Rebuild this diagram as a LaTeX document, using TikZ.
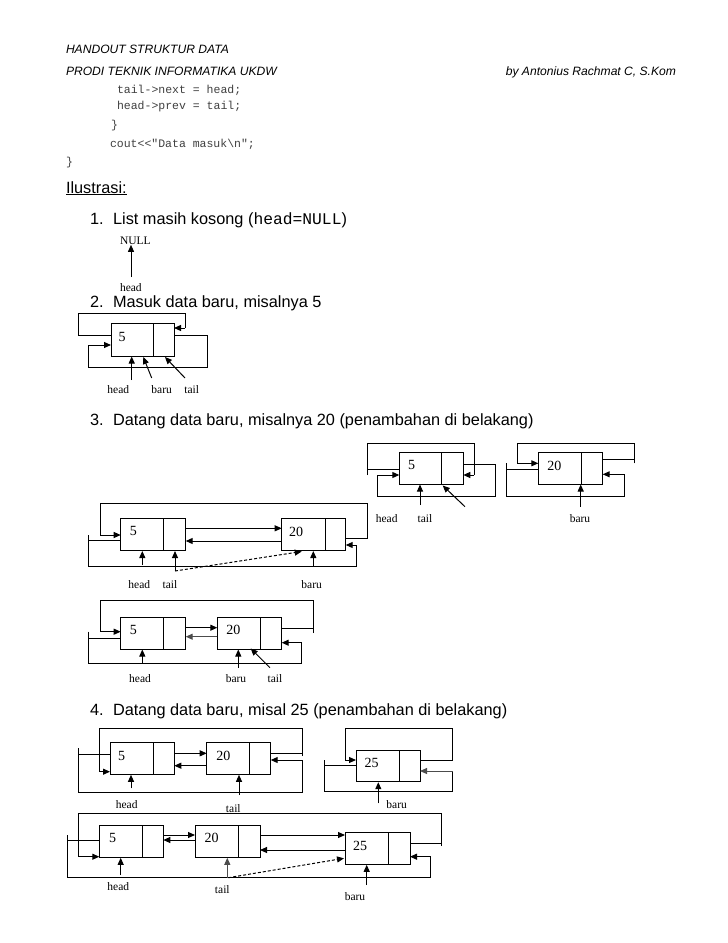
\documentclass[tikz,border=0pt]{standalone}
\usepackage{fontspec}
\setmainfont{Liberation Serif}
\newfontfamily\arialf{Liberation Sans}
\setmonofont{Liberation Mono}
\usetikzlibrary{arrows.meta}
\begin{document}
\begin{tikzpicture}[x=1pt,y=-1pt,
  every node/.style={inner sep=0pt,outer sep=0pt},
  ln/.style={line width=1pt,line join=miter},
  ar/.style={line width=1pt,-{Triangle[length=7pt,width=6pt]}},
  dar/.style={ar,dashed,dash pattern=on 3pt off 2pt},
  cell/.style={draw,line width=1pt,anchor=north west,minimum height=32pt},
  num/.style={font=\fontsize{14}{16}\selectfont},
  lab/.style={font=\fontsize{11.5}{13}\selectfont},
  hdr/.style={anchor=base west,font=\arialf\itshape\fontsize{12.1}{14}\selectfont},
  code/.style={anchor=base west,text=black!75,font=\ttfamily\fontsize{11.5}{13}\selectfont},
  head/.style={anchor=base west,font=\arialf\fontsize{16.3}{18}\selectfont}
]
\path[use as bounding box,fill=white] (0,0) rectangle (728,943);

% header
\node[hdr] (h1) at (66,53) {HANDOUT STRUKTUR DATA};
\node[hdr] (h2) at (66,75) {PRODI TEKNIK INFORMATIKA UKDW};
\node[hdr,anchor=base east] (h3) at (676,75) {by Antonius Rachmat C, S.Kom};
\node[code] (c1) at (117,93) {tail->next = head;};
\node[code] (c2) at (117,109) {head->prev = tail;};
\node[code] (c3) at (111,128) {\}};
\node[code] (c4) at (110,147) {cout<<"Data masuk\textbackslash n";};
\node[code] (c5) at (66,165) {\}};

\node[head] (il) at (66,193) {\underline{Ilustrasi:}};

% 1
\node[head] (t1) at (90,224) {1.\kern 9.5pt List masih kosong (\ttfamily head=NULL\arialf)};
\node[lab,anchor=west] (null) at (120,241) {NULL};
\node[lab,anchor=west] (l1h) at (120,288) {head};
\draw[ar] (131,277) -- (null.south -| 131,0);

% 2
\node[head] (t2) at (90,307) {2.\kern 9.5pt Masuk data baru, misalnya 5};
\node[cell,minimum width=63pt,minimum height=33pt] (s2) at (111,323) {};
\draw[ln] (153,323) -- (153,356);
\node[num] at (122,337) {5};
\draw[ln] (s2.west |- 0,335) -- (78,335) -- (78,313) -- (185,313) -- (185,328);
\draw[ar] (185,328) -- (s2.east |- 0,328);
\draw[ln] (s2.east |- 0,335) -- (207,335) -- (207,367) -- (88,367) -- (88,345);
\draw[ar] (88,345) -- (s2.west |- 0,345);
\node[lab] (l2h) at (118.3,390) {head};
\node[lab] (l2b) at (161.7,390) {baru};
\node[lab] (l2t) at (191.7,390) {tail};
\draw[ar] (131.7,380) -- (131.7,356.5);
\draw[ar] (151.7,378) -- (143.3,357);
\draw[ar] (185,378) -- (165,357);

% 3
\node[head] (t3) at (90,425) {3.\kern 9.5pt Datang data baru, misalnya 20 (penambahan di belakang)};

% 3a : 5
\node[cell,minimum width=64pt,minimum height=31.3pt] (a3) at (399.3,452.7) {};
\draw[ln] (441.7,452.7) -- (441.7,484);
\node[num] at (411.7,465) {5};
\draw[ln] (a3.west |- 0,469.3) -- (367.3,469.3);
\draw[ln] (367.3,475) -- (367.3,443.3) -- (474,443.3) -- (474,475);
\draw[ar] (474,475) -- (a3.east |- 0,475);
\draw[ln] (a3.east |- 0,464.3) -- (495,464.3) -- (495,496) -- (377.3,496) -- (377.3,475);
\draw[ar] (377.3,475) -- (a3.west |- 0,475);
\node[lab] (l3h) at (386.7,518.3) {head};
\node[lab] (l3t) at (425,518.3) {tail};
\draw[ar] (420,505) -- (420,484.5);
\draw[ar] (465,506.7) -- (442.7,485.5);

% 3b : 20
\node[cell,minimum width=64.4pt,minimum height=31.3pt] (b3) at (538.3,452.7) {};
\draw[ln] (581.7,452.7) -- (581.7,484);
\node[num] at (554.3,466) {20};
\draw[ln] (b3.east |- 0,459.3) -- (634,459.3);
\draw[ln] (634,463.3) -- (634,443.3) -- (517.3,443.3) -- (517.3,463.3);
\draw[ar] (517.3,463.3) -- (b3.west |- 0,463.3);
\draw[ln] (b3.west |- 0,469.3) -- (506,469.3);
\draw[ln] (506,463.3) -- (506,496) -- (624.3,496) -- (624.3,474.3);
\draw[ar] (624.3,474.3) -- (b3.east |- 0,474.3);
\node[lab] (l3b) at (580,518.3) {baru};
\draw[ar] (580.7,506.7) -- (580.7,484.5);

% 3c
\node[cell,minimum width=65pt,minimum height=32pt] (c5n) at (120.7,518.5) {};
\draw[ln] (163.3,518.5) -- (163.3,550.5);
\node[num] at (133.3,531) {5};
\node[cell,minimum width=64pt,minimum height=32pt] (c20) at (281.7,518.5) {};
\draw[ln] (325,518.5) -- (325,550.5);
\node[num] at (296,531.7) {20};
\draw[ln] (c20.east |- 0,538.3) -- (367.3,538.3) -- (367.3,503.3) -- (100,503.3) -- (100,535);
\draw[ar] (100,535) -- (c5n.west |- 0,535);
\draw[ln] (c5n.west |- 0,540) -- (88.3,540);
\draw[ln] (88.3,535) -- (88.3,566.7) -- (356.7,566.7) -- (356.7,545);
\draw[ar] (356.7,545) -- (c20.east |- 0,545);
\draw[ar] (c5n.east |- 0,528.3) -- (c20.west |- 0,528.3);
\draw[ar] (c20.west |- 0,541) -- (c5n.east |- 0,541);
\node[lab] (l3ch) at (139.3,584.3) {head};
\node[lab] (l3ct) at (170,584.3) {tail};
\node[lab] (l3cb) at (311.7,584.3) {baru};
\draw[ar] (142.3,565) -- (142.3,551);
\draw[ar] (175,571) -- (175,551);
\draw[dar] (175,571) -- (301.7,551.5);
\draw[ar] (313.3,566.7) -- (313.3,551);

% 3d
\node[cell,minimum width=65pt,minimum height=31.3pt] (d5) at (120.7,617.7) {};
\draw[ln] (163.3,617.7) -- (163.3,649);
\node[num] at (133.3,630) {5};
\node[cell,minimum width=64.4pt,minimum height=31.3pt] (d20) at (217.3,617.7) {};
\draw[ln] (260.7,617.7) -- (260.7,649);
\node[num] at (233.3,630) {20};
\draw[ln] (d20.east |- 0,628.3) -- (313.3,628.3);
\draw[ln] (313.3,633) -- (313.3,600) -- (100,600) -- (100,631.7);
\draw[ar] (100,631.7) -- (d5.west |- 0,631.7);
\draw[ln] (d5.west |- 0,638.3) -- (88.3,638.3);
\draw[ln] (88.3,631.7) -- (88.3,663.3) -- (301.7,663.3) -- (301.7,642.7);
\draw[ar] (301.7,642.7) -- (d20.east |- 0,642.7);
\draw[ar] (d5.east |- 0,627.7) -- (d20.west |- 0,627.7);
\draw[ar,black!70] (d20.west |- 0,636.7) -- (d5.east |- 0,636.7);
\node[lab] (l3dh) at (140,678.3) {head};
\node[lab] (l3db) at (236,678.3) {baru};
\node[lab] (l3dt) at (275,678.3) {tail};
\draw[ar] (142.3,663.3) -- (142.3,649.5);
\draw[ar] (238.3,667.7) -- (238.3,649.5);
\draw[ar] (270,667.7) -- (250.7,648.5);

% 4
\node[head] (t4) at (90,715) {4.\kern 9.5pt Datang data baru, misal 25 (penambahan di belakang)};

\node[cell,minimum width=64.3pt,minimum height=32pt] (e5) at (110,742.3) {};
\draw[ln] (153.3,742.3) -- (153.3,774.3);
\node[num] at (121.7,755.7) {5};
\node[cell,minimum width=64pt,minimum height=32pt] (e20) at (206.7,742.3) {};
\draw[ln] (249.3,742.3) -- (249.3,774.3);
\node[num] at (223.3,755.7) {20};
\draw[ln] (e20.east |- 0,753.3) -- (302.7,753.3);
\draw[ln] (302.7,756) -- (302.7,728.3) -- (99.3,728.3) -- (99.3,771.7);
\draw[ar] (99.3,771.7) -- (e5.west |- 0,771.7);
\draw[ln] (e5.west |- 0,754.3) -- (78.3,754.3);
\draw[ln] (78.3,748.3) -- (78.3,792.3) -- (302.7,792.3) -- (302.7,760);
\draw[ar] (302.7,760) -- (e20.east |- 0,760);
\draw[ar] (e5.east |- 0,753.3) -- (e20.west |- 0,753.3);
\draw[ar] (e20.west |- 0,765.7) -- (e5.east |- 0,765.7);
\node[lab] (l4ah) at (126.7,804.3) {head};
\node[lab] (l4at) at (233.3,808.3) {tail};
\draw[ar] (131,788.3) -- (131,774.8);
\draw[ar] (239,795) -- (239,774.8);

\node[cell,minimum width=64pt,minimum height=31.7pt] (f25) at (356,750) {};
\draw[ln] (399.3,750) -- (399.3,781.7);
\node[num] at (371.7,763.3) {25};
\draw[ln] (f25.east |- 0,760) -- (452.7,760) -- (452.7,728.3) -- (345,728.3) -- (345,760);
\draw[ar] (345,760) -- (f25.west |- 0,760);
\draw[ln] (f25.west |- 0,765.7) -- (324,765.7);
\draw[ln] (324,760) -- (324,791.7) -- (452.7,791.7) -- (452.7,771);
\draw[ar,black!70] (452.7,771) -- (f25.east |- 0,771);
\node[lab] (l4ab) at (396.7,804.3) {baru};
\draw[ar] (378.3,803.3) -- (378.3,782.2);

% 4b
\node[cell,minimum width=64pt,minimum height=32.3pt] (g5) at (99.3,825) {};
\draw[ln] (142.3,825) -- (142.3,857.3);
\node[num] at (112.7,838.3) {5};
\node[cell,minimum width=65pt,minimum height=32.3pt] (g20) at (195,825) {};
\draw[ln] (238.3,825) -- (238.3,857.3);
\node[num] at (211.7,838.3) {20};
\node[cell,minimum width=65pt,minimum height=32pt] (g25) at (345,832.3) {};
\draw[ln] (388.3,832.3) -- (388.3,864.3);
\node[num] at (360,846) {25};
\draw[ln] (g25.east |- 0,843.3) -- (441.7,843.3);
\draw[ln] (441.7,846) -- (441.7,813.3) -- (78.3,813.3) -- (78.3,856.7);
\draw[ar] (78.3,856.7) -- (g5.west |- 0,856.7);
\draw[ln] (g5.west |- 0,840) -- (67.3,840);
\draw[ln] (67.3,835) -- (67.3,877.7) -- (430.7,877.7) -- (430.7,856.7);
\draw[ar] (430.7,856.7) -- (g25.east |- 0,856.7);
\draw[ar] (g5.east |- 0,835) -- (g20.west |- 0,835);
\draw[ar] (g20.west |- 0,840) -- (g5.east |- 0,840);
\draw[ar] (g20.east |- 0,835) -- (g25.west |- 0,835);
\draw[ar] (g25.west |- 0,850) -- (g20.east |- 0,850);
\node[lab] (l4bh) at (118.3,886.7) {head};
\node[lab] (l4bt) at (222.3,890) {tail};
\node[lab] (l4bb) at (355,896.7) {baru};
\draw[ar] (120.7,875) -- (120.7,857.8);
\draw[ar,black!70] (227.3,877.7) -- (227.3,857.8);
\draw[dar] (228.3,877.7) -- (344,858.3);
\draw[ar] (366.7,885) -- (366.7,864.8);
\end{tikzpicture}
\end{document}
